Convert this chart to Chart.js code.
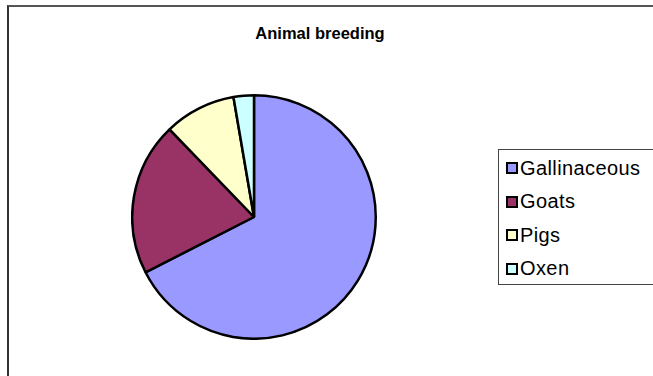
<!DOCTYPE html>
<html>
<head>
<meta charset="utf-8">
<script src="https://cdn.jsdelivr.net/npm/chart.js@4/dist/chart.umd.min.js"></script>
<style>
    body { margin: 0; background: #fff; font-family: "Liberation Sans", Arial, sans-serif; }
    #frame {
        position: absolute; left: 7px; top: 5px; width: 700px; height: 420px;
        border-left: 2px solid #333; border-top: 2px solid #555;
    }
    #title {
        position: absolute; left: 0; width: 640px; top: 24px; text-align: center;
        font-weight: bold; font-size: 16.5px; color: #000;
    }
    #pieBox { position: absolute; left: 131px; top: 94px; width: 246px; height: 246px; }
    #legend {
        position: absolute; left: 498px; top: 149px; width: 200px; height: 134px;
        border: 1px solid #444;
    }
    .item { position: absolute; left: 7px; height: 20px; display: flex; align-items: center; }
    .sw { width: 8px; height: 8px; border: 2px solid #000; margin-right: 2px; }
    .lbl { font-size: 20px; letter-spacing: 0.4px; color: #000; }
</style>
</head>
<body>
<div id="frame"></div>
<div id="title">Animal breeding</div>
<div id="pieBox"><canvas id="chart"></canvas></div>
<div id="legend"></div>
<script>
// ----------------------------
// DATA
// ----------------------------
const animals = ["Gallinaceous", "Goats", "Pigs", "Oxen"];
const counts = [675, 203, 95, 27];
const sliceColors = ["#9999FF", "#993366", "#FFFFCC", "#CCFFFF"];

// ----------------------------
// LEGEND (right box)
// ----------------------------
const legend = document.getElementById("legend");
animals.forEach((name, i) => {
    const row = document.createElement("div");
    row.className = "item";
    row.style.top = (8 + i * 33.5) + "px";
    row.innerHTML = `<span class="sw" style="background:${sliceColors[i]}"></span><span class="lbl">${name}</span>`;
    legend.appendChild(row);
});

// ----------------------------
// PIE
// ----------------------------
new Chart(document.getElementById("chart"), {
    type: "pie",
    data: {
        labels: animals,
        datasets: [{
            data: counts,
            backgroundColor: sliceColors,
            borderColor: "#000",
            borderWidth: 2.5
        }]
    },
    options: {
        responsive: true,
        maintainAspectRatio: false,
        animation: false,
        layout: { padding: 0 },
        plugins: {
            legend: { display: false },
            title: { display: false },
            tooltip: { enabled: false }
        }
    }
});
</script>
</body>
</html>
